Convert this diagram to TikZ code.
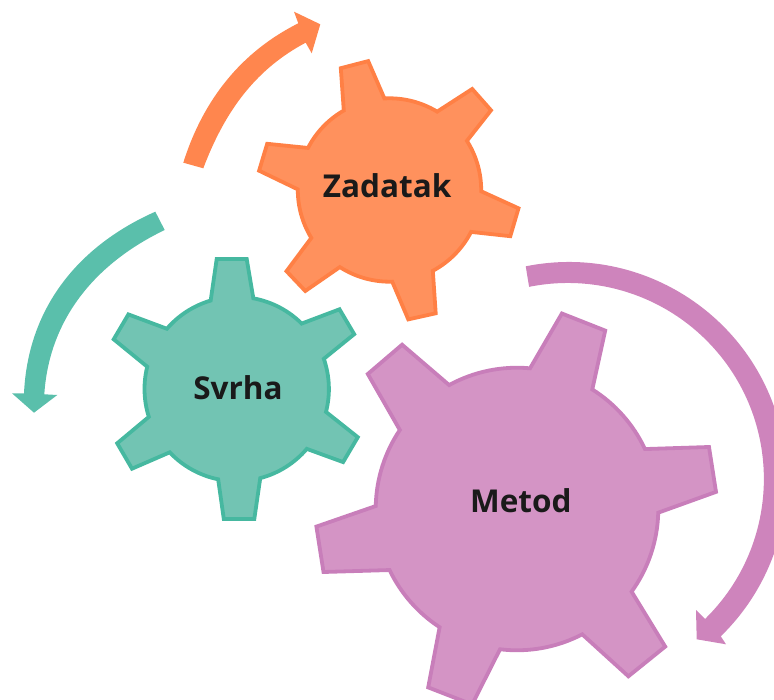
\documentclass[tikz,border=0pt]{standalone}
\usepackage{fontspec}
\setmainfont{Open Sans}
\definecolor{zadatakfill}{HTML}{FF915D}
\definecolor{zadatakline}{HTML}{FF8045}
\definecolor{zadatakarrow}{HTML}{FF864E}
\definecolor{svrhafill}{HTML}{72C4B3}
\definecolor{svrhaline}{HTML}{46B8A0}
\definecolor{svrhaarrow}{HTML}{5ABFAB}
\definecolor{metodfill}{HTML}{D494C5}
\definecolor{metodline}{HTML}{C87EBA}
\definecolor{metodarrow}{HTML}{CE84BC}
\definecolor{gearlabel}{HTML}{1A1A1A}
\newcommand{\gearseg}[3]{(#1:#3) arc[start angle=#1,end angle=#2,radius=#3]}
\tikzset{
  gearshape/.style={line width=3.8pt,line join=miter},
  gearname/.style={anchor=base,font=\fontsize{31.5}{36}\selectfont\bfseries,text=gearlabel,inner sep=0pt}
}
\begin{document}
\begin{tikzpicture}[x=1pt,y=-1pt]
\useasboundingbox (0,0) rectangle (774,700);
\clip (0,0) rectangle (774,700);
\fill[zadatakarrow] (183.3,162.7) .. controls (203,100) and (241,52) .. (298.3,23.3) -- (294,11.7) -- (320.3,24.3) -- (311.7,53.3) -- (305.7,42.7) .. controls (258,68) and (226,108) .. (203.3,168.3) -- cycle;
\fill[svrhaarrow] (155.3,211.7) .. controls (78,246) and (28,308) .. (24,393.3) -- (12,393.3) -- (34,412.7) -- (57.3,395) -- (44.3,394.3) .. controls (49,322) and (92,265) .. (164.7,230) -- cycle;
\fill[metodarrow] (568.8,480) ++(-101.4:218) arc[start angle=-101.4,end angle=45.8,radius=218] -- (726,644.3) -- (696.7,639.3) -- (696,610) -- (705,619) arc[start angle=45.6,end angle=-101.4,radius=196] -- cycle;
\begin{scope}[shift={(389.5,190)}]
\draw[gearshape,fill=zadatakfill,draw=zadatakline] \gearseg{-93.2}{-58.7}{91.7} -- (82.7,-101) -- (101.5,-79.7) -- \gearseg{-32.4}{0.8}{91.7} -- (129,18.3) -- (120.8,46.2) -- \gearseg{27.2}{61.8}{91.7} -- (46.2,123.3) -- (18.8,129.4) -- \gearseg{88.3}{122.8}{91.7} -- (-84.2,101) -- (-103,81.2) -- \gearseg{148.5}{180.4}{91.7} -- (-130.4,-19.3) -- (-122.3,-46.2) -- \gearseg{207.3}{240.1}{91.7} -- (-48.7,-121.8) -- (-21.3,-128.9) -- cycle;
\end{scope}
\begin{scope}[shift={(236.7,389)}]
\draw[gearshape,fill=svrhafill,draw=svrhaline] \gearseg{-79.6}{-45.2}{92.2} -- (102.8,-79.7) -- (117.5,-54.8) -- \gearseg{-19.1}{14.4}{92.2} -- (121.1,48.2) -- (106.4,73.1) -- \gearseg{40.5}{75.2}{92.2} -- (17.6,130) -- (-12.9,130) -- \gearseg{101.6}{136.6}{92.2} -- (-104.7,79.7) -- (-119.5,54.3) -- \gearseg{162.4}{194}{92.2} -- (-123,-49.7) -- (-108.3,-74.6) -- \gearseg{220.8}{253.6}{92.2} -- (-20,-130) -- (10,-130) -- cycle;
\end{scope}
\begin{scope}[shift={(517,509)}]
\draw[gearshape,fill=metodfill,draw=metodline] (-84.7:141.3) -- (44.9,-195.5) -- (88.2,-178.4) -- \gearseg{-57.8}{-25.1}{141.3} -- (192,-62) -- (199,-17.1) -- \gearseg{1.5}{35.8}{141.3} -- (148.2,137.6) -- (111.4,167.3) -- \gearseg{62.5}{96.9}{141.3} -- (-44.9,195.5) -- (-88.8,178.4) -- \gearseg{123.2}{154.4}{141.3} -- (-193.5,63) -- (-200.6,17.6) -- \gearseg{181.2}{214}{141.3} -- (-149.2,-135) -- (-114.9,-164.3) -- \gearseg{241.3}{275.3}{141.3} -- cycle;
\end{scope}
\node[gearname] (zadatak) at (387.2,198) {Zadatak};
\node[gearname] (svrha) at (238,399.5) {Svrha};
\node[gearname] (metod) at (520.8,512.3) {Metod};
\end{tikzpicture}
\end{document}
